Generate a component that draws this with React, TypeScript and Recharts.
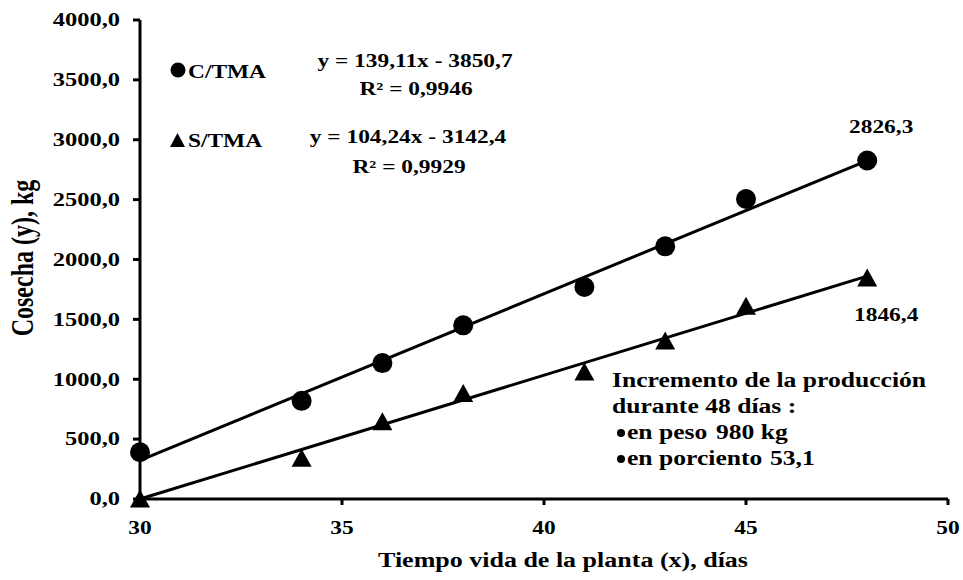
import React from "react";
import { ComposedChart, XAxis, YAxis, Scatter, Line } from "recharts";

// días de vida de la planta
const diasX = [30, 34, 36, 38, 41, 43, 45, 48];
// cosecha con TMA (kg)
const conTMA = [390, 820, 1135, 1450, 1770, 2110, 2505, 2826.3];
// cosecha sin TMA (kg)
const sinTMA = [0, 340, 645, 880, 1060, 1320, 1610, 1846.4];

const xTicks = [30, 35, 40, 45, 50];
const yTicks = [0, 500, 1000, 1500, 2000, 2500, 3000, 3500, 4000];

// tendencias lineales (Excel)
const trendC = { slope: 139.11, intercept: -3850.7, r2: 0.9946 };
const trendS = { slope: 104.24, intercept: -3142.4, r2: 0.9929 };

const FONT = "'Liberation Serif', 'Times New Roman', serif";
const SX = 1.3;

const fmt = (v: number, d: number) => v.toFixed(d).replace(".", ",");

const dataC = diasX.map((x, i) => ({ x, y: conTMA[i] }));
const dataS = diasX.map((x, i) => ({ x, y: sinTMA[i] }));
const x0 = diasX[0];
const x1 = diasX[diasX.length - 1];
const lineOf = (t: typeof trendC) => [
  { x: x0, y: Math.max(0, t.slope * x0 + t.intercept) },
  { x: x1, y: t.slope * x1 + t.intercept },
];

function Txt({ x, y, size = 18, anchor = "start", dy, sx = SX, children }: any) {
  return (
    <text
      transform={`translate(${x},${y}) scale(${sx},1)`}
      fontFamily={FONT}
      fontWeight="bold"
      fontSize={size}
      textAnchor={anchor}
      dy={dy}
      fill="#000"
      style={{ whiteSpace: "pre" }}
    >
      {children}
    </text>
  );
}

const YTick = (p: any) => (
  <Txt x={p.x} y={p.y} anchor="end" dy="0.35em" sx={1.36}>
    {fmt(p.payload.value, 1)}
  </Txt>
);

const XTick = (p: any) => (
  <Txt x={p.x} y={p.y} anchor="middle" dy="0.71em">
    {p.payload.value}
  </Txt>
);

const circleShape = (p: any) => (
  <g>
    <circle cx={p.cx} cy={p.cy} r={10} fill="#000" />
    {p.payload.x === x1 && (
      <Txt x={p.cx + 14} y={p.cy - 28} anchor="middle">
        {fmt(p.payload.y, 1)}
      </Txt>
    )}
  </g>
);

const triangleShape = (p: any) => (
  <g>
    <polygon
      points={`${p.cx},${p.cy - 9.5} ${p.cx - 10},${p.cy + 8.5} ${p.cx + 10},${p.cy + 8.5}`}
      fill="#000"
    />
    {p.payload.x === x1 && (
      <Txt x={p.cx + 19} y={p.cy + 43} anchor="middle">
        {fmt(p.payload.y, 1)}
      </Txt>
    )}
  </g>
);

export default function App() {
  const lastC = conTMA[conTMA.length - 1];
  const lastS = sinTMA[sinTMA.length - 1];
  const incKg = fmt(lastC - lastS, 0);
  const incPct = fmt(((lastC - lastS) / lastS) * 100, 1);

  return (
    <div style={{ position: "absolute", left: 0, top: 0, width: 963, height: 580, background: "#fff" }}>
      <ComposedChart width={963} height={580} margin={{ top: 20, right: 15, bottom: 0, left: 0 }}>
        <XAxis
          dataKey="x"
          type="number"
          domain={[30, 50]}
          ticks={xTicks}
          height={81}
          tick={<XTick />}
          tickSize={6}
          tickMargin={16}
          axisLine={{ stroke: "#000", strokeWidth: 3 }}
          tickLine={{ stroke: "#000", strokeWidth: 3 }}
        />
        <YAxis
          dataKey="y"
          type="number"
          domain={[0, 4000]}
          ticks={yTicks}
          width={140}
          tick={<YTick />}
          tickSize={7}
          tickMargin={13}
          axisLine={{ stroke: "#000", strokeWidth: 3 }}
          tickLine={{ stroke: "#000", strokeWidth: 3 }}
        />
        <Line data={lineOf(trendC)} dataKey="y" stroke="#000" strokeWidth={3} dot={false} isAnimationActive={false} />
        <Line data={lineOf(trendS)} dataKey="y" stroke="#000" strokeWidth={3} dot={false} isAnimationActive={false} />
        <Scatter data={dataC} dataKey="y" shape={circleShape} isAnimationActive={false} />
        <Scatter data={dataS} dataKey="y" shape={triangleShape} isAnimationActive={false} />
      </ComposedChart>

      <svg width={963} height={580} style={{ position: "absolute", left: 0, top: 0, pointerEvents: "none" }}>
        {/* leyenda */}
        <circle cx={178} cy={70} r={7.5} fill="#000" />
        <Txt x={188} y={78}>C/TMA</Txt>
        <polygon points="177.5,133 170,147 185,147" fill="#000" />
        <Txt x={188} y={147}>S/TMA</Txt>

        {/* ecuaciones */}
        <Txt x={415} y={67} anchor="middle">{`y = ${fmt(trendC.slope, 2)}x - ${fmt(-trendC.intercept, 1)}`}</Txt>
        <Txt x={416} y={95} anchor="middle">{`R² = ${fmt(trendC.r2, 4)}`}</Txt>
        <Txt x={408} y={143} anchor="middle">{`y = ${fmt(trendS.slope, 2)}x - ${fmt(-trendS.intercept, 1)}`}</Txt>
        <Txt x={409} y={173} anchor="middle">{`R² = ${fmt(trendS.r2, 4)}`}</Txt>

        {/* nota */}
        <Txt x={612} y={387} size={20} sx={1.28}>Incremento de la producción</Txt>
        <Txt x={612} y={413} size={20} sx={1.28}>{`durante ${x1} días :`}</Txt>
        <circle cx={621} cy={433} r={4} fill="#000" />
        <Txt x={627} y={439} size={20} sx={1.28}>en peso</Txt>
        <Txt x={716} y={439} size={20} sx={1.28}>{`${incKg} kg`}</Txt>
        <circle cx={621} cy={459} r={4} fill="#000" />
        <Txt x={627} y={465} size={20} sx={1.28}>en porciento</Txt>
        <Txt x={770} y={465} size={20} sx={1.28}>{incPct}</Txt>

        {/* títulos de ejes */}
        <Txt x={563} y={567} size={20} anchor="middle">Tiempo vida de la planta (x), días</Txt>
        <text
          transform={`translate(33,258) scale(${SX},1) rotate(-90)`}
          fontFamily={FONT}
          fontWeight="bold"
          fontSize={24}
          textAnchor="middle"
          fill="#000"
        >
          Cosecha (y), kg
        </text>
      </svg>
    </div>
  );
}
